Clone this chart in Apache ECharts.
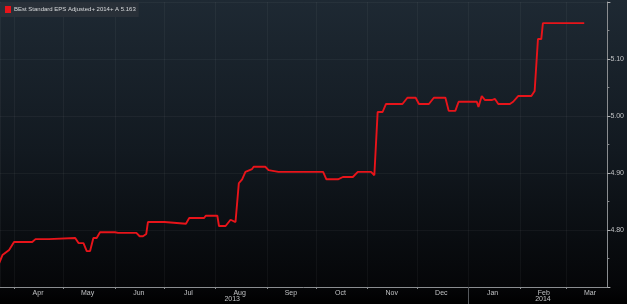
<!DOCTYPE html>
<html><head><meta charset="utf-8">
<script src="https://cdn.jsdelivr.net/npm/echarts@6/dist/echarts.min.js"></script>
<style>html,body{margin:0;padding:0;background:#000}#c{width:627px;height:304px}</style>
</head><body><div id="c"></div>
<script>
const seriesName = 'BEst Standard EPS Adjusted+ 2014+ A 5.163';
const dates = ['2013-03-23','2013-03-25','2013-03-29','2013-04-01','2013-04-12','2013-04-14','2013-04-22','2013-04-23','2013-05-08','2013-05-10','2013-05-13','2013-05-15','2013-05-17','2013-05-19','2013-05-21','2013-05-23','2013-06-01','2013-06-03','2013-06-14','2013-06-16','2013-06-18','2013-06-20','2013-06-21','2013-07-01','2013-07-02','2013-07-14','2013-07-16','2013-07-25','2013-07-26','2013-08-02','2013-08-03','2013-08-07','2013-08-10','2013-08-13','2013-08-14','2013-08-15','2013-08-17','2013-08-19','2013-08-23','2013-08-24','2013-08-31','2013-09-02','2013-09-08','2013-10-05','2013-10-07','2013-10-14','2013-10-17','2013-10-23','2013-10-26','2013-11-03','2013-11-05','2013-11-07','2013-11-10','2013-11-12','2013-11-22','2013-11-25','2013-11-30','2013-12-02','2013-12-08','2013-12-11','2013-12-18','2013-12-20','2013-12-24','2013-12-26','2014-01-06','2014-01-07','2014-01-09','2014-01-11','2014-01-15','2014-01-17','2014-01-19','2014-01-26','2014-01-28','2014-01-31','2014-02-08','2014-02-10','2014-02-11','2014-02-12','2014-02-14','2014-02-15','2014-03-12'];
const values = [4.742,4.756,4.765,4.779,4.779,4.784,4.784,4.786,4.786,4.777,4.777,4.763,4.763,4.786,4.786,4.796,4.796,4.795,4.795,4.789,4.789,4.793,4.814,4.814,4.811,4.811,4.821,4.821,4.825,4.825,4.807,4.807,4.818,4.814,4.814,4.882,4.889,4.902,4.907,4.911,4.911,4.905,4.902,4.902,4.889,4.889,4.893,4.893,4.902,4.902,4.896,5.007,5.007,5.021,5.021,5.032,5.032,5.021,5.021,5.032,5.032,5.009,5.009,5.025,5.025,5.016,5.035,5.028,5.028,5.030,5.021,5.021,5.025,5.035,5.035,5.044,5.046,5.135,5.135,5.163,5.163];
const yearLabelDates = ['2013-08-11','2014-02-15'];
const yearSeparator = ['2014-01-01'];
const xMin = '2013-03-23T12:00:00';
const xMax = '2014-03-26T00:00:00';
const yMin = 4.70, yMax = 5.20, yStep = 0.10;

const MONTHS = ['Jan','Feb','Mar','Apr','May','Jun','Jul','Aug','Sep','Oct','Nov','Dec'];
const toTs = s => new Date(s.length === 10 ? s + 'T00:00:00' : s).getTime();
const font = "'Liberation Sans Narrow','Arial Narrow','Liberation Sans',Arial,sans-serif";

const chart = echarts.init(document.getElementById('c'), null, {renderer: 'canvas'});
chart.setOption({
  animation: false,
  backgroundColor: {type: 'linear', x: 0, y: 0, x2: 0, y2: 1, colorStops: [
    {offset: 0, color: '#1e2933'}, {offset: 0.5, color: '#121920'}, {offset: 0.94, color: '#050608'}, {offset: 1, color: '#000000'}]},
  grid: {left: 0, right: 19, top: 2, bottom: 17, containLabel: false},
  legend: {
    left: 1, top: 2, padding: [4, 3, 4, 4], itemGap: 0,
    backgroundColor: '#293038',
    icon: 'rect', itemWidth: 6, itemHeight: 7,
    textStyle: {color: '#d8dadc', fontSize: 6, fontFamily: font, padding: [0, 0, 0, -2]},
    data: [seriesName]
  },
  xAxis: [{
    type: 'time', min: toTs(xMin), max: toTs(xMax),
    minInterval: 28 * 86400000, maxInterval: 31 * 86400000,
    axisLine: {show: true, lineStyle: {color: '#8a8d90', width: 1}},
    axisTick: {show: true, length: 2, lineStyle: {color: '#8a8d90'}},
    splitLine: {show: true, lineStyle: {color: 'rgba(255,255,255,0.045)', width: 1}},
    axisLabel: {
      formatter: v => MONTHS[new Date(v).getMonth()],
      color: '#c0c2c4', fontSize: 7, fontFamily: font, margin: 3,
      padding: [0, 0, 0, 48], showMinLabel: false, hideOverlap: false
    }
  }, {
    type: 'value', min: toTs(xMin), max: toTs(xMax), position: 'bottom',
    axisLine: {show: false},
    axisTick: {show: true, customValues: yearSeparator.map(toTs), length: 18, lineStyle: {color: '#55585c'}},
    splitLine: {show: false},
    axisLabel: {
      customValues: yearLabelDates.map(toTs),
      formatter: v => String(new Date(v).getFullYear()),
      color: '#c0c2c4', fontSize: 7, fontFamily: font, margin: 9
    }
  }],
  yAxis: {
    type: 'value', position: 'right', min: yMin, max: yMax, interval: yStep,
    axisLine: {show: true, lineStyle: {color: '#8a8d90'}},
    axisTick: {show: true, length: 3, lineStyle: {color: '#b0b2b4'}},
    minorTick: {show: true, splitNumber: 2, length: 2, lineStyle: {color: '#8a8d90'}},
    splitLine: {show: true, lineStyle: {color: 'rgba(255,255,255,0.045)'}},
    axisLabel: {
      showMinLabel: false, showMaxLabel: false,
      formatter: v => v.toFixed(2), color: '#c0c2c4', fontSize: 7, fontFamily: font, margin: 3
    }
  },
  series: [{
    name: seriesName, type: 'line', xAxisIndex: 0,
    showSymbol: false, symbol: 'none',
    itemStyle: {color: '#e8141a'},
    lineStyle: {color: '#e8141a', width: 1.9},
    data: dates.map((d, i) => [toTs(d), values[i]])
  }]
});
</script></body></html>
